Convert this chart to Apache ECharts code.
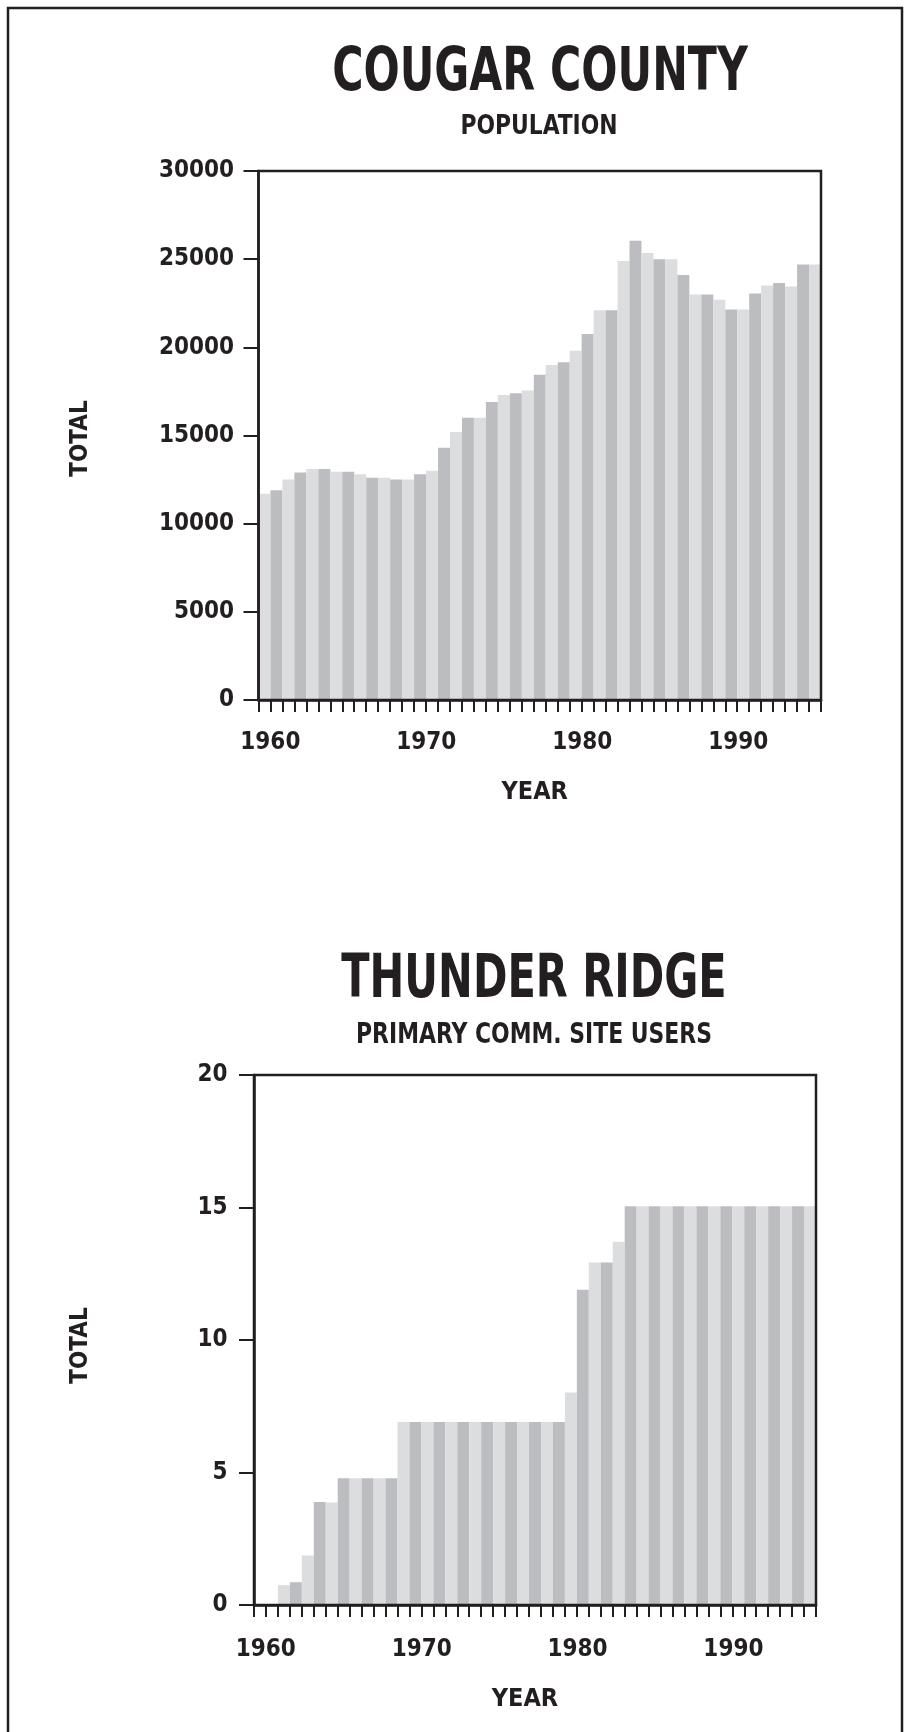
<!DOCTYPE html>
<html>
<head>
<meta charset="utf-8">
<title>Cougar County / Thunder Ridge</title>
<script src="https://cdn.jsdelivr.net/npm/echarts@6.0.0/dist/echarts.min.js"></script>
<style>
  html, body { margin: 0; padding: 0; background: #fff; }
  #main { width: 906px; height: 1732px; }
</style>
</head>
<body>
<div id="main"></div>
<script>
// 47 equal bar slots, drawn across the 1960-1995 year scale
const periods = ['1', '2', '3', '4', '5', '6', '7', '8', '9', '10',
  '11', '12', '13', '14', '15', '16', '17', '18', '19', '20',
  '21', '22', '23', '24', '25', '26', '27', '28', '29', '30',
  '31', '32', '33', '34', '35', '36', '37', '38', '39', '40',
  '41', '42', '43', '44', '45', '46', '47'];
const yearTicks = [1960, 1970, 1980, 1990];
const yearRange = [1959.24, 1995.3];

const populationTicks = [0, 5000, 10000, 15000, 20000, 25000, 30000];
const populationTotals = [11700, 11900, 12500, 12900, 13100, 13100, 12950, 12950, 12800, 12600,
  12600, 12500, 12500, 12800, 13000, 14300, 15200, 16000, 16000, 16900,
  17300, 17400, 17550, 18450, 19000, 19150, 19800, 20750, 22100, 22100,
  24900, 26050, 25350, 25000, 25000, 24100, 23000, 23000, 22700, 22150,
  22150, 23050, 23500, 23650, 23450, 24700, 24700];

const userTicks = [0, 5, 10, 15, 20];
const siteUsers = [0, 0, 0.75, 0.86, 1.87, 3.89, 3.87, 4.78, 4.78, 4.78,
  4.78, 4.78, 6.91, 6.91, 6.91, 6.91, 6.91, 6.91, 6.91, 6.91,
  6.91, 6.91, 6.91, 6.91, 6.91, 6.91, 8.02, 11.9, 12.92, 12.92,
  13.71, 15.05, 15.05, 15.05, 15.05, 15.05, 15.05, 15.05, 15.05, 15.05,
  15.05, 15.05, 15.05, 15.05, 15.05, 15.05, 15.05];

const ink = '#231f20';
const light = '#dcdddf';
const dark = '#bcbdc0';
const font = "'DejaVu Sans Condensed', 'DejaVu Sans', sans-serif";

function headStyle(size) {
  return { fontFamily: font, fontWeight: 'bold', fontSize: size, color: ink };
}

// condensed heading drawn as plain text, squeezed to the narrow face of the original
function heading(text, cx, cy, size, squeeze) {
  return {
    type: 'text',
    silent: true,
    x: cx,
    y: cy,
    scaleX: squeeze,
    style: {
      text: text,
      fontFamily: font,
      fontWeight: 'bold',
      fontSize: size,
      fill: ink,
      align: 'center',
      verticalAlign: 'middle'
    }
  };
}

function numLabel(margin) {
  return {
    margin: margin,
    fontFamily: font,
    fontWeight: 'bold',
    fontSize: 24,
    color: ink,
    formatter: function (v) { return String(v); }
  };
}

function barAxis(gridIndex) {
  return {
    type: 'category',
    gridIndex: gridIndex,
    position: 'bottom',
    data: periods,
    boundaryGap: true,
    z: 10,
    axisLine: { show: true, lineStyle: { color: ink, width: 2.5 } },
    axisTick: { show: true, interval: 0, length: 12, lineStyle: { color: ink, width: 2 } },
    axisLabel: { show: false },
    splitLine: { show: false }
  };
}

function yearAxis(gridIndex, labelMargin, nameGap, namePad) {
  const label = numLabel(labelMargin);
  label.customValues = yearTicks;
  return {
    type: 'value',
    gridIndex: gridIndex,
    position: 'bottom',
    min: yearRange[0],
    max: yearRange[1],
    axisLine: { show: false },
    axisTick: { show: false },
    splitLine: { show: false },
    axisLabel: label,
    name: 'YEAR',
    nameLocation: 'middle',
    nameGap: nameGap,
    nameTextStyle: Object.assign(headStyle(25), { padding: [0, namePad, 0, 0] })
  };
}

function totalAxis(gridIndex, ticks, labelMargin, nameGap, namePad) {
  return {
    type: 'value',
    gridIndex: gridIndex,
    min: ticks[0],
    max: ticks[ticks.length - 1],
    interval: ticks[1] - ticks[0],
    z: 10,
    axisLine: { show: true, lineStyle: { color: ink, width: 2.5 } },
    axisTick: { show: true, length: 15, lineStyle: { color: ink, width: 2 } },
    splitLine: { show: false },
    axisLabel: numLabel(labelMargin),
    name: 'TOTAL',
    nameLocation: 'middle',
    nameGap: nameGap,
    nameTextStyle: Object.assign(headStyle(24), { padding: [0, namePad, 0, 0] })
  };
}

function barSeries(xIdx, yIdx, values) {
  return {
    type: 'bar',
    xAxisIndex: xIdx,
    yAxisIndex: yIdx,
    data: values,
    barCategoryGap: '0%',
    silent: true,
    itemStyle: {
      color: function (p) { return p.dataIndex % 2 === 0 ? light : dark; }
    }
  };
}

const chart = echarts.init(document.getElementById('main'), null, { renderer: 'canvas' });

chart.setOption({
  animation: false,
  backgroundColor: '#ffffff',
  graphic: [
    {
      type: 'rect',
      silent: true,
      shape: { x: 8, y: 8, width: 894, height: 1750 },
      style: { fill: 'none', stroke: ink, lineWidth: 2.5 }
    },
    heading('COUGAR COUNTY', 540, 74.5, 60, 0.79),
    heading('POPULATION', 539, 127.3, 27, 0.9),
    heading('THUNDER RIDGE', 534, 981, 60, 0.77),
    heading('PRIMARY COMM. SITE USERS', 534, 1035.3, 28, 0.87)
  ],
  grid: [
    { left: 258.5, top: 171, width: 562.5, height: 529, show: true, z: 10,
      borderColor: ink, borderWidth: 2.5, outerBoundsMode: 'none' },
    { left: 254, top: 1075, width: 562, height: 530, show: true, z: 10,
      borderColor: ink, borderWidth: 2.5, outerBoundsMode: 'none' }
  ],
  xAxis: [
    barAxis(0),
    yearAxis(0, 31, 80, 10),
    barAxis(1),
    yearAxis(1, 32.5, 82, 20)
  ],
  yAxis: [
    totalAxis(0, populationTicks, 24.5, 165.5, 6),
    totalAxis(1, userTicks, 26.5, 161.5, 11)
  ],
  series: [
    barSeries(0, 0, populationTotals),
    barSeries(2, 1, siteUsers)
  ]
});
</script>
</body>
</html>
